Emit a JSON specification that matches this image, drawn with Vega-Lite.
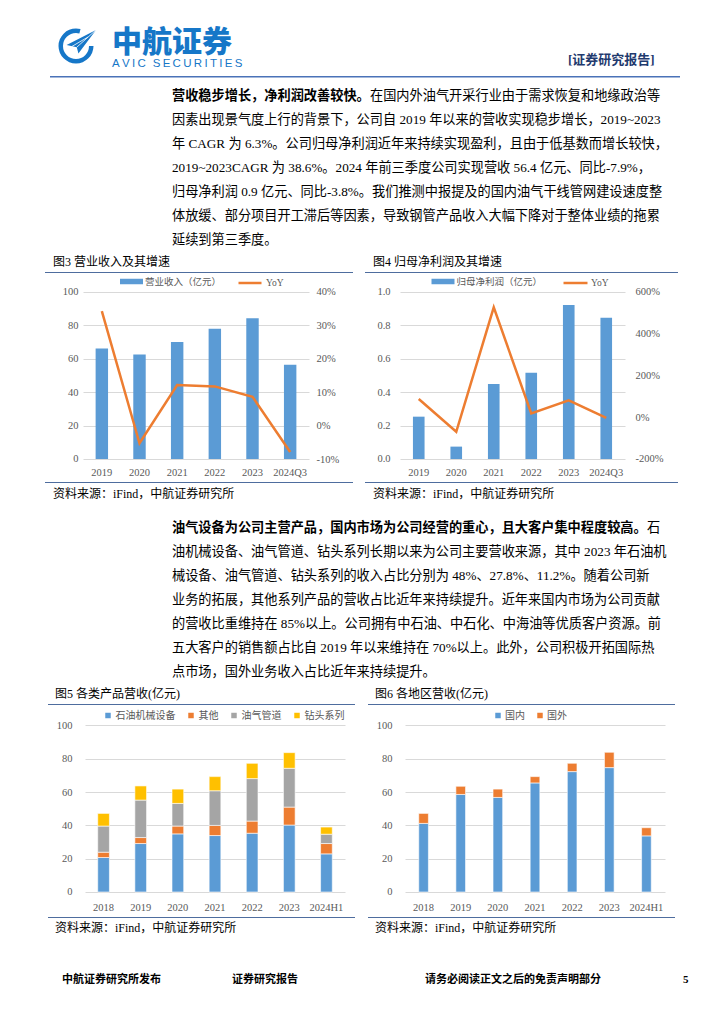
{
  "$schema": "https://vega.github.io/schema/vega-lite/v6.json",
  "padding": 0,
  "autosize": {"type": "pad"},
  "background": "white",
  "config": {
    "view": {"stroke": null},
    "font": "'Liberation Serif','Noto Sans CJK SC'",
    "axis": {"labelFont": "'Liberation Serif','Noto Sans CJK SC'", "labelColor": "#595959", "labelFontSize": 10.5},
    "legend": {"labelFont": "'Liberation Serif','Noto Sans CJK SC'", "labelColor": "#595959", "labelFontSize": 10, "padding": 0}
  },
  "datasets": {
    "rev": [
      {"year": "2019", "rev": 66.1, "yoy": 34.2},
      {"year": "2020", "rev": 62.4, "yoy": -5.3},
      {"year": "2021", "rev": 69.9, "yoy": 12.1},
      {"year": "2022", "rev": 77.8, "yoy": 11.7},
      {"year": "2023", "rev": 84.2, "yoy": 8.6},
      {"year": "2024Q3", "rev": 56.4, "yoy": -7.9}
    ],
    "np": [
      {"year": "2019", "np": 0.253, "yoy": 87},
      {"year": "2020", "np": 0.074, "yoy": -70},
      {"year": "2021", "np": 0.448, "yoy": 525},
      {"year": "2022", "np": 0.516, "yoy": 18},
      {"year": "2023", "np": 0.92, "yoy": 80},
      {"year": "2024Q3", "np": 0.845, "yoy": -3.8}
    ],
    "prod": [
      {"year": "2018", "cat": "石油机械设备", "k": 1, "v": 20.7},
      {"year": "2018", "cat": "其他", "k": 2, "v": 3.2},
      {"year": "2018", "cat": "油气管道", "k": 3, "v": 15.7},
      {"year": "2018", "cat": "钻头系列", "k": 4, "v": 7.6},
      {"year": "2019", "cat": "石油机械设备", "k": 1, "v": 29.1},
      {"year": "2019", "cat": "其他", "k": 2, "v": 3.6},
      {"year": "2019", "cat": "油气管道", "k": 3, "v": 22.5},
      {"year": "2019", "cat": "钻头系列", "k": 4, "v": 8.5},
      {"year": "2020", "cat": "石油机械设备", "k": 1, "v": 34.9},
      {"year": "2020", "cat": "其他", "k": 2, "v": 4.7},
      {"year": "2020", "cat": "油气管道", "k": 3, "v": 13.6},
      {"year": "2020", "cat": "钻头系列", "k": 4, "v": 8.6},
      {"year": "2021", "cat": "石油机械设备", "k": 1, "v": 33.9},
      {"year": "2021", "cat": "其他", "k": 2, "v": 6.1},
      {"year": "2021", "cat": "油气管道", "k": 3, "v": 20.8},
      {"year": "2021", "cat": "钻头系列", "k": 4, "v": 8.5},
      {"year": "2022", "cat": "石油机械设备", "k": 1, "v": 35.3},
      {"year": "2022", "cat": "其他", "k": 2, "v": 7.3},
      {"year": "2022", "cat": "油气管道", "k": 3, "v": 25.5},
      {"year": "2022", "cat": "钻头系列", "k": 4, "v": 9.2},
      {"year": "2023", "cat": "石油机械设备", "k": 1, "v": 40.2},
      {"year": "2023", "cat": "其他", "k": 2, "v": 10.8},
      {"year": "2023", "cat": "油气管道", "k": 3, "v": 23.3},
      {"year": "2023", "cat": "钻头系列", "k": 4, "v": 9.4},
      {"year": "2024H1", "cat": "石油机械设备", "k": 1, "v": 22.9},
      {"year": "2024H1", "cat": "其他", "k": 2, "v": 6.2},
      {"year": "2024H1", "cat": "油气管道", "k": 3, "v": 5.6},
      {"year": "2024H1", "cat": "钻头系列", "k": 4, "v": 4.3}
    ],
    "region": [
      {"year": "2018", "cat": "国内", "k": 1, "v": 41.2},
      {"year": "2018", "cat": "国外", "k": 2, "v": 6.0},
      {"year": "2019", "cat": "国内", "k": 1, "v": 58.6},
      {"year": "2019", "cat": "国外", "k": 2, "v": 4.9},
      {"year": "2020", "cat": "国内", "k": 1, "v": 56.8},
      {"year": "2020", "cat": "国外", "k": 2, "v": 5.0},
      {"year": "2021", "cat": "国内", "k": 1, "v": 65.5},
      {"year": "2021", "cat": "国外", "k": 2, "v": 3.8},
      {"year": "2022", "cat": "国内", "k": 1, "v": 72.3},
      {"year": "2022", "cat": "国外", "k": 2, "v": 5.0},
      {"year": "2023", "cat": "国内", "k": 1, "v": 74.7},
      {"year": "2023", "cat": "国外", "k": 2, "v": 9.2},
      {"year": "2024H1", "cat": "国内", "k": 1, "v": 33.7},
      {"year": "2024H1", "cat": "国外", "k": 2, "v": 4.9}
    ],
    "p1": [
      {"line": 2, "t": "因素出现景气度上行的背景下，公司自 2019 年以来的营收实现稳步增长，2019~2023"},
      {"line": 3, "t": "年 CAGR 为 6.3%。公司归母净利润近年来持续实现盈利，且由于低基数而增长较快，"},
      {"line": 4, "t": "2019~2023CAGR 为 38.6%。2024 年前三季度公司实现营收 56.4 亿元、同比-7.9%，"},
      {"line": 5, "t": "归母净利润 0.9 亿元、同比-3.8%。我们推测中报提及的国内油气干线管网建设速度整"},
      {"line": 6, "t": "体放缓、部分项目开工滞后等因素，导致钢管产品收入大幅下降对于整体业绩的拖累"},
      {"line": 7, "t": "延续到第三季度。"}
    ],
    "p2": [
      {"line": 2, "t": "油机械设备、油气管道、钻头系列长期以来为公司主要营收来源，其中 2023 年石油机"},
      {"line": 3, "t": "械设备、油气管道、钻头系列的收入占比分别为 48%、27.8%、11.2%。随着公司新"},
      {"line": 4, "t": "业务的拓展，其他系列产品的营收占比近年来持续提升。近年来国内市场为公司贡献"},
      {"line": 5, "t": "的营收比重维持在 85%以上。公司拥有中石油、中石化、中海油等优质客户资源。前"},
      {"line": 6, "t": "五大客户的销售额占比自 2019 年以来维持在 70%以上。此外，公司积极开拓国际热"},
      {"line": 7, "t": "点市场，国外业务收入占比近年来持续提升。"}
    ]
  },
  "spacing": 0,
  "resolve": {"scale": {"color": "independent", "fill": "independent", "stroke": "independent", "theta": "independent"}, "legend": {"color": "independent", "fill": "independent", "stroke": "independent"}},
  "vconcat": [
    {"width": 10, "height": 26, "data": {"values": [{}]}, "mark": {"type": "text", "text": "", "fontSize": 0}},
    {
      "spacing": 0, "bounds": "flush",
      "resolve": {"scale": {"color": "independent", "theta": "independent"}, "legend": {"color": "independent"}},
      "hconcat": [
        {"width": 55, "height": 50, "data": {"values": [{}]}, "mark": {"type": "text", "text": "", "fontSize": 0}},
        {
          "width": 42, "height": 40,
          "layer": [
            {
              "data": {"values": [{"c": "ring", "k": 1, "v": 15}, {"c": "gap", "k": 2, "v": 75}, {"c": "ring", "k": 3, "v": 270}]},
              "mark": {"type": "arc", "innerRadius": 13, "outerRadius": 17.5},
              "encoding": {
                "theta": {"field": "v", "type": "quantitative"},
                "order": {"field": "k", "type": "quantitative"},
                "color": {"field": "c", "type": "nominal", "scale": {"domain": ["ring", "gap"], "range": ["#1677C8", "rgba(255,255,255,0)"]}, "legend": null}
              }
            },
            {
              "data": {"values": [{"p": "plane"}]},
              "mark": {"type": "point", "shape": "M-0.47,-0.05L1,-0.8L0.12,0.37L0.04,0.06Z", "size": 1600, "filled": true, "color": "#1677C8", "opacity": 1, "strokeWidth": 0},
              "encoding": {}
            },
            {
              "data": {"values": [{"p": "fold"}]},
              "mark": {"type": "point", "shape": "M0.04,0.06L1,-0.8M-0.2,0.02L0.6,-0.45", "size": 1600, "filled": false, "stroke": "white", "strokeWidth": 0.8, "opacity": 1},
              "encoding": {}
            }
          ]
        },
        {"width": 15, "height": 1, "data": {"values": [{}]}, "mark": {"type": "text", "text": "", "fontSize": 0}},
        {
          "width": 131, "height": 50,
          "encoding": {
            "x": {"datum": 0, "type": "quantitative", "scale": {"domain": [0, 1]}, "axis": null},
            "y": {"field": "k", "type": "nominal", "scale": {"type": "band", "domain": ["cn", "en"], "paddingInner": 0, "paddingOuter": 0.1905, "align": 0.75}, "axis": null},
            "text": {"field": "t", "type": "nominal"}
          },
          "layer": [
            {"data": {"values": [{"k": "cn", "t": "中航证券"}]}, "mark": {"type": "text", "align": "left", "baseline": "middle", "font": "'Noto Sans CJK SC'", "fontSize": 30, "fontWeight": 900, "color": "#1677C8"}},
            {"data": {"values": [{"k": "en", "t": "A\u2009V\u2009I\u2009C\u2009\u2009\u2009S\u2009E\u2009C\u2009U\u2009R\u2009I\u2009T\u2009I\u2009E\u2009S"}]}, "mark": {"type": "text", "align": "left", "baseline": "middle", "font": "'Liberation Sans'", "fontSize": 11.5, "color": "#1677C8"}}
          ]
        },
        {"width": 325, "height": 1, "data": {"values": [{}]}, "mark": {"type": "text", "text": "", "fontSize": 0}},
        {
          "width": 90, "height": 34,
          "data": {"values": [{"t": "[证券研究报告]"}]},
          "mark": {"type": "text", "align": "left", "baseline": "middle", "font": "'Liberation Serif','Noto Sans CJK SC'", "fontSize": 13, "fontWeight": "bold", "color": "#1F3A6E"},
          "encoding": {
            "text": {"field": "t", "type": "nominal"},
            "x": {"datum": 0, "type": "quantitative", "scale": {"domain": [0, 1]}, "axis": null},
            "y": {"datum": 0, "type": "quantitative", "scale": {"domain": [0, 1]}, "axis": null}
          }
        }
      ]
    },
    {
      "spacing": 0, "bounds": "flush",
      "hconcat": [
        {"width": 50, "height": 8, "data": {"values": [{}]}, "mark": {"type": "text", "text": "", "fontSize": 0}},
        {"width": 630, "height": 8, "data": {"values": [{}]}, "mark": {"type": "rule", "color": "#4A72B8", "strokeWidth": 1.5},
         "encoding": {"x": {"datum": 0, "type": "quantitative", "scale": {"domain": [0, 1]}, "axis": null}, "x2": {"datum": 1}, "y": {"datum": 0.9, "type": "quantitative", "scale": {"domain": [0, 1]}, "axis": null}}}
      ]
    },
    {
      "spacing": 0, "bounds": "flush",
      "hconcat": [
        {"width": 172, "height": 24, "data": {"values": [{}]}, "mark": {"type": "text", "text": "", "fontSize": 0}},
        {"width": 198, "height": 24, "data": {"values": [{"t": "营收稳步增长，净利润改善较快。"}]}, "mark": {"type": "text", "align": "left", "baseline": "middle", "font": "'Liberation Serif','Noto Sans CJK SC'", "fontSize": 13.2, "fontWeight": "bold", "color": "#000000"}, "encoding": {"text": {"field": "t", "type": "nominal"}, "x": {"datum": 0, "type": "quantitative", "scale": {"domain": [0, 1]}, "axis": null}}},
        {"width": 290, "height": 24, "data": {"values": [{"t": "在国内外油气开采行业由于需求恢复和地缘政治等"}]}, "mark": {"type": "text", "align": "left", "baseline": "middle", "font": "'Liberation Serif','Noto Sans CJK SC'", "fontSize": 13.2, "color": "#000000"}, "encoding": {"text": {"field": "t", "type": "nominal"}, "x": {"datum": 0, "type": "quantitative", "scale": {"domain": [0, 1]}, "axis": null}}}
      ]
    },
    {
      "spacing": 0, "bounds": "flush",
      "hconcat": [
        {"width": 172, "height": 144, "data": {"values": [{}]}, "mark": {"type": "text", "text": "", "fontSize": 0}},
        {
          "width": 488, "height": 144,
          "data": {"name": "p1"},
          "mark": {"type": "text", "align": "left", "baseline": "middle", "font": "'Liberation Serif','Noto Sans CJK SC'", "fontSize": 13.2, "color": "#000000"},
          "encoding": {
            "x": {"datum": 0, "type": "quantitative", "scale": {"domain": [0, 1]}, "axis": null},
            "y": {"field": "line", "type": "ordinal", "scale": {"type": "band", "domain": [2, 3, 4, 5, 6, 7], "paddingInner": 0, "paddingOuter": 0}, "axis": null},
            "text": {"field": "t", "type": "nominal"}
          }
        }
      ]
    },
    {
      "spacing": 0, "bounds": "flush",
      "hconcat": [
        {"width": 53, "height": 20, "data": {"values": [{}]}, "mark": {"type": "text", "text": "", "fontSize": 0}},
        {"width": 250, "height": 20, "data": {"values": [{"t": "图3 营业收入及其增速"}]}, "mark": {"type": "text", "align": "left", "baseline": "middle", "fontSize": 12, "color": "#000000"}, "encoding": {"text": {"field": "t", "type": "nominal"}, "x": {"datum": 0, "type": "quantitative", "scale": {"domain": [0, 1]}, "axis": null}}},
        {"width": 70, "height": 1, "data": {"values": [{}]}, "mark": {"type": "text", "text": "", "fontSize": 0}},
        {"width": 250, "height": 20, "data": {"values": [{"t": "图4 归母净利润及其增速"}]}, "mark": {"type": "text", "align": "left", "baseline": "middle", "fontSize": 12, "color": "#000000"}, "encoding": {"text": {"field": "t", "type": "nominal"}, "x": {"datum": 0, "type": "quantitative", "scale": {"domain": [0, 1]}, "axis": null}}}
      ]
    },
    {
      "spacing": 0, "bounds": "flush",
      "hconcat": [
        {"width": 45, "height": 1, "data": {"values": [{}]}, "mark": {"type": "text", "text": "", "fontSize": 0}},
        {"width": 308, "height": 1, "data": {"values": [{}]}, "mark": {"type": "rule", "color": "#4E6D9E", "strokeWidth": 1}, "encoding": {"x": {"datum": 0, "type": "quantitative", "scale": {"domain": [0, 1]}, "axis": null}, "x2": {"datum": 1}, "y": {"datum": 0.5, "type": "quantitative", "scale": {"domain": [0, 1]}, "axis": null}}},
        {"width": 12, "height": 1, "data": {"values": [{}]}, "mark": {"type": "text", "text": "", "fontSize": 0}},
        {"width": 313, "height": 1, "data": {"values": [{}]}, "mark": {"type": "rule", "color": "#4E6D9E", "strokeWidth": 1}, "encoding": {"x": {"datum": 0, "type": "quantitative", "scale": {"domain": [0, 1]}, "axis": null}, "x2": {"datum": 1}, "y": {"datum": 0.5, "type": "quantitative", "scale": {"domain": [0, 1]}, "axis": null}}}
      ]
    },
    {
      "spacing": 0, "bounds": "flush",
      "resolve": {"scale": {"fill": "independent", "stroke": "independent"}, "legend": {"fill": "independent", "stroke": "independent"}},
      "hconcat": [
        {"width": 83, "height": 209, "data": {"values": [{}]}, "mark": {"type": "text", "text": "", "fontSize": 0}},
        {
          "width": 226, "height": 209,
          "data": {"name": "rev"},
          "encoding": {
            "x": {"field": "year", "type": "ordinal", "scale": {"type": "band", "paddingInner": 0.67, "paddingOuter": 0.335}, "axis": {"title": null, "orient": "bottom", "offset": -23, "ticks": false, "domain": false, "grid": false, "labelPadding": 8, "labelAngle": 0}}
          },
          "layer": [
            {
              "mark": {"type": "bar"},
              "encoding": {
                "y": {"field": "rev", "type": "quantitative", "scale": {"domain": [-13.75, 111.18], "nice": false, "zero": false}, "axis": {"title": null, "orient": "left", "values": [0, 20, 40, 60, 80, 100], "ticks": false, "domain": false, "grid": true, "gridColor": "#D9D9D9", "labelPadding": 5}},
                "fill": {"datum": "营业收入（亿元）", "type": "nominal", "scale": {"range": ["#5B9BD5"]}, "legend": {"title": null, "orient": "none", "legendX": 43.5, "legendY": 3.5, "symbolType": "M-2.3,-0.55L2.3,-0.55L2.3,0.55L-2.3,0.55Z", "symbolSize": 100, "symbolStrokeWidth": 0, "labelOffset": 8.5, "labelFontSize": 9.5}}
              }
            },
            {
              "mark": {"type": "line", "strokeWidth": 2.5},
              "encoding": {
                "y": {"field": "yoy", "type": "quantitative", "scale": {"domain": [-16.87, 45.59], "nice": false, "zero": false}, "axis": {"title": null, "orient": "right", "values": [-10, 0, 10, 20, 30, 40], "labelExpr": "datum.value + '%'", "ticks": false, "domain": false, "grid": false, "labelPadding": 7}},
                "stroke": {"datum": "YoY", "type": "nominal", "scale": {"range": ["#ED7D31"]}, "legend": {"title": null, "orient": "none", "legendX": 160.5, "legendY": 3.5, "symbolType": "M-2.3,0L2.3,0", "symbolSize": 100, "symbolStrokeWidth": 2.5, "labelOffset": 9.5, "labelFontSize": 9.5}}
              }
            }
          ],
          "resolve": {"scale": {"y": "independent"}}
        },
        {"width": 91, "height": 1, "data": {"values": [{}]}, "mark": {"type": "text", "text": "", "fontSize": 0}},
        {
          "width": 225, "height": 209,
          "data": {"name": "np"},
          "encoding": {
            "x": {"field": "year", "type": "ordinal", "scale": {"type": "band", "paddingInner": 0.69, "paddingOuter": 0.345}, "axis": {"title": null, "orient": "bottom", "offset": -23, "ticks": false, "domain": false, "grid": false, "labelPadding": 8, "labelAngle": 0}}
          },
          "layer": [
            {
              "mark": {"type": "bar"},
              "encoding": {
                "y": {"field": "np", "type": "quantitative", "scale": {"domain": [-0.1375, 1.1118], "nice": false, "zero": false}, "axis": {"title": null, "orient": "left", "values": [0, 0.2, 0.4, 0.6, 0.8, 1.0], "format": ".1f", "ticks": false, "domain": false, "grid": true, "gridColor": "#D9D9D9", "labelPadding": 10}},
                "fill": {"datum": "归母净利润（亿元）", "type": "nominal", "scale": {"range": ["#5B9BD5"]}, "legend": {"title": null, "orient": "none", "legendX": 38, "legendY": 3.5, "symbolType": "M-2.3,-0.55L2.3,-0.55L2.3,0.55L-2.3,0.55Z", "symbolSize": 100, "symbolStrokeWidth": 0, "labelOffset": 8.5, "labelFontSize": 9.5}}
              }
            },
            {
              "mark": {"type": "line", "strokeWidth": 2.5},
              "encoding": {
                "y": {"field": "yoy", "type": "quantitative", "scale": {"domain": [-310, 689.4], "nice": false, "zero": false}, "axis": {"title": null, "orient": "right", "values": [-200, 0, 200, 400, 600], "labelExpr": "datum.value + '%'", "ticks": false, "domain": false, "grid": false, "labelPadding": 10}},
                "stroke": {"datum": "YoY", "type": "nominal", "scale": {"range": ["#ED7D31"]}, "legend": {"title": null, "orient": "none", "legendX": 169, "legendY": 3.5, "symbolType": "M-2.4,0L2.4,0", "symbolSize": 100, "symbolStrokeWidth": 2.5, "labelOffset": 9, "labelFontSize": 9.5}}
              }
            }
          ],
          "resolve": {"scale": {"y": "independent"}}
        }
      ]
    },
    {
      "spacing": 0, "bounds": "flush",
      "hconcat": [
        {"width": 45, "height": 1, "data": {"values": [{}]}, "mark": {"type": "text", "text": "", "fontSize": 0}},
        {"width": 308, "height": 1, "data": {"values": [{}]}, "mark": {"type": "rule", "color": "#4E6D9E", "strokeWidth": 1}, "encoding": {"x": {"datum": 0, "type": "quantitative", "scale": {"domain": [0, 1]}, "axis": null}, "x2": {"datum": 1}, "y": {"datum": 0.5, "type": "quantitative", "scale": {"domain": [0, 1]}, "axis": null}}},
        {"width": 12, "height": 1, "data": {"values": [{}]}, "mark": {"type": "text", "text": "", "fontSize": 0}},
        {"width": 313, "height": 1, "data": {"values": [{}]}, "mark": {"type": "rule", "color": "#4E6D9E", "strokeWidth": 1}, "encoding": {"x": {"datum": 0, "type": "quantitative", "scale": {"domain": [0, 1]}, "axis": null}, "x2": {"datum": 1}, "y": {"datum": 0.5, "type": "quantitative", "scale": {"domain": [0, 1]}, "axis": null}}}
      ]
    },
    {
      "spacing": 0, "bounds": "flush",
      "hconcat": [
        {"width": 53, "height": 33, "data": {"values": [{}]}, "mark": {"type": "text", "text": "", "fontSize": 0}},
        {"width": 200, "height": 21, "data": {"values": [{"t": "资料来源：iFind，中航证券研究所"}]}, "mark": {"type": "text", "align": "left", "baseline": "middle", "fontSize": 12, "color": "#000000"}, "encoding": {"text": {"field": "t", "type": "nominal"}, "x": {"datum": 0, "type": "quantitative", "scale": {"domain": [0, 1]}, "axis": null}}},
        {"width": 120, "height": 1, "data": {"values": [{}]}, "mark": {"type": "text", "text": "", "fontSize": 0}},
        {"width": 200, "height": 21, "data": {"values": [{"t": "资料来源：iFind，中航证券研究所"}]}, "mark": {"type": "text", "align": "left", "baseline": "middle", "fontSize": 12, "color": "#000000"}, "encoding": {"text": {"field": "t", "type": "nominal"}, "x": {"datum": 0, "type": "quantitative", "scale": {"domain": [0, 1]}, "axis": null}}}
      ]
    },
    {
      "spacing": 0, "bounds": "flush",
      "hconcat": [
        {"width": 172, "height": 24, "data": {"values": [{}]}, "mark": {"type": "text", "text": "", "fontSize": 0}},
        {"width": 475, "height": 24, "data": {"values": [{"t": "油气设备为公司主营产品，国内市场为公司经营的重心，且大客户集中程度较高。"}]}, "mark": {"type": "text", "align": "left", "baseline": "middle", "font": "'Liberation Serif','Noto Sans CJK SC'", "fontSize": 13.2, "fontWeight": "bold", "color": "#000000"}, "encoding": {"text": {"field": "t", "type": "nominal"}, "x": {"datum": 0, "type": "quantitative", "scale": {"domain": [0, 1]}, "axis": null}}},
        {"width": 20, "height": 24, "data": {"values": [{"t": "石"}]}, "mark": {"type": "text", "align": "left", "baseline": "middle", "font": "'Liberation Serif','Noto Sans CJK SC'", "fontSize": 13.2, "color": "#000000"}, "encoding": {"text": {"field": "t", "type": "nominal"}, "x": {"datum": 0, "type": "quantitative", "scale": {"domain": [0, 1]}, "axis": null}}}
      ]
    },
    {
      "spacing": 0, "bounds": "flush",
      "hconcat": [
        {"width": 172, "height": 144, "data": {"values": [{}]}, "mark": {"type": "text", "text": "", "fontSize": 0}},
        {
          "width": 488, "height": 144,
          "data": {"name": "p2"},
          "mark": {"type": "text", "align": "left", "baseline": "middle", "font": "'Liberation Serif','Noto Sans CJK SC'", "fontSize": 13.2, "color": "#000000"},
          "encoding": {
            "x": {"datum": 0, "type": "quantitative", "scale": {"domain": [0, 1]}, "axis": null},
            "y": {"field": "line", "type": "ordinal", "scale": {"type": "band", "domain": [2, 3, 4, 5, 6, 7], "paddingInner": 0, "paddingOuter": 0}, "axis": null},
            "text": {"field": "t", "type": "nominal"}
          }
        }
      ]
    },
    {
      "spacing": 0, "bounds": "flush",
      "hconcat": [
        {"width": 55, "height": 20, "data": {"values": [{}]}, "mark": {"type": "text", "text": "", "fontSize": 0}},
        {"width": 250, "height": 20, "data": {"values": [{"t": "图5 各类产品营收(亿元)"}]}, "mark": {"type": "text", "align": "left", "baseline": "middle", "fontSize": 12, "color": "#000000"}, "encoding": {"text": {"field": "t", "type": "nominal"}, "x": {"datum": 0, "type": "quantitative", "scale": {"domain": [0, 1]}, "axis": null}}},
        {"width": 70, "height": 1, "data": {"values": [{}]}, "mark": {"type": "text", "text": "", "fontSize": 0}},
        {"width": 250, "height": 20, "data": {"values": [{"t": "图6 各地区营收(亿元)"}]}, "mark": {"type": "text", "align": "left", "baseline": "middle", "fontSize": 12, "color": "#000000"}, "encoding": {"text": {"field": "t", "type": "nominal"}, "x": {"datum": 0, "type": "quantitative", "scale": {"domain": [0, 1]}, "axis": null}}}
      ]
    },
    {
      "spacing": 0, "bounds": "flush",
      "hconcat": [
        {"width": 48, "height": 1, "data": {"values": [{}]}, "mark": {"type": "text", "text": "", "fontSize": 0}},
        {"width": 307, "height": 1, "data": {"values": [{}]}, "mark": {"type": "rule", "color": "#4E6D9E", "strokeWidth": 1}, "encoding": {"x": {"datum": 0, "type": "quantitative", "scale": {"domain": [0, 1]}, "axis": null}, "x2": {"datum": 1}, "y": {"datum": 0.5, "type": "quantitative", "scale": {"domain": [0, 1]}, "axis": null}}},
        {"width": 13, "height": 1, "data": {"values": [{}]}, "mark": {"type": "text", "text": "", "fontSize": 0}},
        {"width": 307, "height": 1, "data": {"values": [{}]}, "mark": {"type": "rule", "color": "#4E6D9E", "strokeWidth": 1}, "encoding": {"x": {"datum": 0, "type": "quantitative", "scale": {"domain": [0, 1]}, "axis": null}, "x2": {"datum": 1}, "y": {"datum": 0.5, "type": "quantitative", "scale": {"domain": [0, 1]}, "axis": null}}}
      ]
    },
    {
      "spacing": 0, "bounds": "flush",
      "resolve": {"scale": {"color": "independent"}, "legend": {"color": "independent"}},
      "hconcat": [
        {"width": 85, "height": 212, "data": {"values": [{}]}, "mark": {"type": "text", "text": "", "fontSize": 0}},
        {
          "width": 260, "height": 212,
          "data": {"name": "prod"},
          "mark": {"type": "bar", "stroke": "white", "strokeWidth": 0.6},
          "encoding": {
            "x": {"field": "year", "type": "ordinal", "scale": {"type": "band", "paddingInner": 0.685, "paddingOuter": 0.3425}, "axis": {"title": null, "orient": "bottom", "offset": -25, "ticks": false, "domain": false, "grid": false, "labelPadding": 10, "labelAngle": 0}},
            "y": {"field": "v", "type": "quantitative", "stack": "zero", "scale": {"domain": [-15.02, 112.31], "nice": false, "zero": false}, "axis": {"title": null, "orient": "left", "values": [0, 20, 40, 60, 80, 100], "ticks": false, "domain": false, "grid": true, "gridColor": "#D9D9D9", "labelPadding": 13}},
            "color": {"field": "cat", "type": "nominal", "scale": {"domain": ["石油机械设备", "其他", "油气管道", "钻头系列"], "range": ["#5B9BD5", "#ED7D31", "#A5A5A5", "#FFC000"]}, "legend": {"title": null, "orient": "none", "legendX": 18, "legendY": 5.5, "direction": "horizontal", "symbolType": "square", "symbolSize": 30, "symbolStrokeWidth": 0, "labelOffset": 2.5, "columnPadding": 10, "labelFontSize": 10}},
            "order": {"field": "k", "type": "quantitative"}
          }
        },
        {"width": 60, "height": 1, "data": {"values": [{}]}, "mark": {"type": "text", "text": "", "fontSize": 0}},
        {
          "width": 260, "height": 212,
          "data": {"name": "region"},
          "mark": {"type": "bar", "stroke": "white", "strokeWidth": 0.6},
          "encoding": {
            "x": {"field": "year", "type": "ordinal", "scale": {"type": "band", "paddingInner": 0.74, "paddingOuter": 0.37}, "axis": {"title": null, "orient": "bottom", "offset": -25, "ticks": false, "domain": false, "grid": false, "labelPadding": 10, "labelAngle": 0}},
            "y": {"field": "v", "type": "quantitative", "stack": "zero", "scale": {"domain": [-15.02, 112.31], "nice": false, "zero": false}, "axis": {"title": null, "orient": "left", "values": [0, 20, 40, 60, 80, 100], "ticks": false, "domain": false, "grid": true, "gridColor": "#D9D9D9", "labelPadding": 13}},
            "color": {"field": "cat", "type": "nominal", "scale": {"domain": ["国内", "国外"], "range": ["#5B9BD5", "#ED7D31"]}, "legend": {"title": null, "orient": "none", "legendX": 88, "legendY": 5.5, "direction": "horizontal", "symbolType": "square", "symbolSize": 30, "symbolStrokeWidth": 0, "labelOffset": 2, "columnPadding": 10, "labelFontSize": 10}},
            "order": {"field": "k", "type": "quantitative"}
          }
        }
      ]
    },
    {
      "spacing": 0, "bounds": "flush",
      "hconcat": [
        {"width": 48, "height": 1, "data": {"values": [{}]}, "mark": {"type": "text", "text": "", "fontSize": 0}},
        {"width": 307, "height": 1, "data": {"values": [{}]}, "mark": {"type": "rule", "color": "#4E6D9E", "strokeWidth": 1}, "encoding": {"x": {"datum": 0, "type": "quantitative", "scale": {"domain": [0, 1]}, "axis": null}, "x2": {"datum": 1}, "y": {"datum": 0.5, "type": "quantitative", "scale": {"domain": [0, 1]}, "axis": null}}},
        {"width": 13, "height": 1, "data": {"values": [{}]}, "mark": {"type": "text", "text": "", "fontSize": 0}},
        {"width": 307, "height": 1, "data": {"values": [{}]}, "mark": {"type": "rule", "color": "#4E6D9E", "strokeWidth": 1}, "encoding": {"x": {"datum": 0, "type": "quantitative", "scale": {"domain": [0, 1]}, "axis": null}, "x2": {"datum": 1}, "y": {"datum": 0.5, "type": "quantitative", "scale": {"domain": [0, 1]}, "axis": null}}}
      ]
    },
    {
      "spacing": 0, "bounds": "flush",
      "hconcat": [
        {"width": 55, "height": 51, "data": {"values": [{}]}, "mark": {"type": "text", "text": "", "fontSize": 0}},
        {"width": 200, "height": 20, "data": {"values": [{"t": "资料来源：iFind，中航证券研究所"}]}, "mark": {"type": "text", "align": "left", "baseline": "middle", "fontSize": 12, "color": "#000000"}, "encoding": {"text": {"field": "t", "type": "nominal"}, "x": {"datum": 0, "type": "quantitative", "scale": {"domain": [0, 1]}, "axis": null}}},
        {"width": 120, "height": 1, "data": {"values": [{}]}, "mark": {"type": "text", "text": "", "fontSize": 0}},
        {"width": 200, "height": 20, "data": {"values": [{"t": "资料来源：iFind，中航证券研究所"}]}, "mark": {"type": "text", "align": "left", "baseline": "middle", "fontSize": 12, "color": "#000000"}, "encoding": {"text": {"field": "t", "type": "nominal"}, "x": {"datum": 0, "type": "quantitative", "scale": {"domain": [0, 1]}, "axis": null}}}
      ]
    },
    {
      "spacing": 0, "bounds": "flush",
      "hconcat": [
        {"width": 62, "height": 22, "data": {"values": [{}]}, "mark": {"type": "text", "text": "", "fontSize": 0}},
        {"width": 150, "height": 22, "data": {"values": [{"t": "中航证券研究所发布"}]}, "mark": {"type": "text", "align": "left", "baseline": "middle", "fontSize": 11, "fontWeight": "bold", "color": "#000000"}, "encoding": {"text": {"field": "t", "type": "nominal"}, "x": {"datum": 0, "type": "quantitative", "scale": {"domain": [0, 1]}, "axis": null}}},
        {"width": 20, "height": 1, "data": {"values": [{}]}, "mark": {"type": "text", "text": "", "fontSize": 0}},
        {"width": 120, "height": 22, "data": {"values": [{"t": "证券研究报告"}]}, "mark": {"type": "text", "align": "left", "baseline": "middle", "fontSize": 11, "fontWeight": "bold", "color": "#000000"}, "encoding": {"text": {"field": "t", "type": "nominal"}, "x": {"datum": 0, "type": "quantitative", "scale": {"domain": [0, 1]}, "axis": null}}},
        {"width": 73, "height": 1, "data": {"values": [{}]}, "mark": {"type": "text", "text": "", "fontSize": 0}},
        {"width": 240, "height": 22, "data": {"values": [{"t": "请务必阅读正文之后的免责声明部分"}]}, "mark": {"type": "text", "align": "left", "baseline": "middle", "fontSize": 11, "fontWeight": "bold", "color": "#000000"}, "encoding": {"text": {"field": "t", "type": "nominal"}, "x": {"datum": 0, "type": "quantitative", "scale": {"domain": [0, 1]}, "axis": null}}},
        {"width": 18, "height": 1, "data": {"values": [{}]}, "mark": {"type": "text", "text": "", "fontSize": 0}},
        {"width": 20, "height": 22, "data": {"values": [{"t": "5"}]}, "mark": {"type": "text", "align": "left", "baseline": "middle", "fontSize": 11, "fontWeight": "bold", "color": "#000000"}, "encoding": {"text": {"field": "t", "type": "nominal"}, "x": {"datum": 0, "type": "quantitative", "scale": {"domain": [0, 1]}, "axis": null}}}
      ]
    }
  ]
}
